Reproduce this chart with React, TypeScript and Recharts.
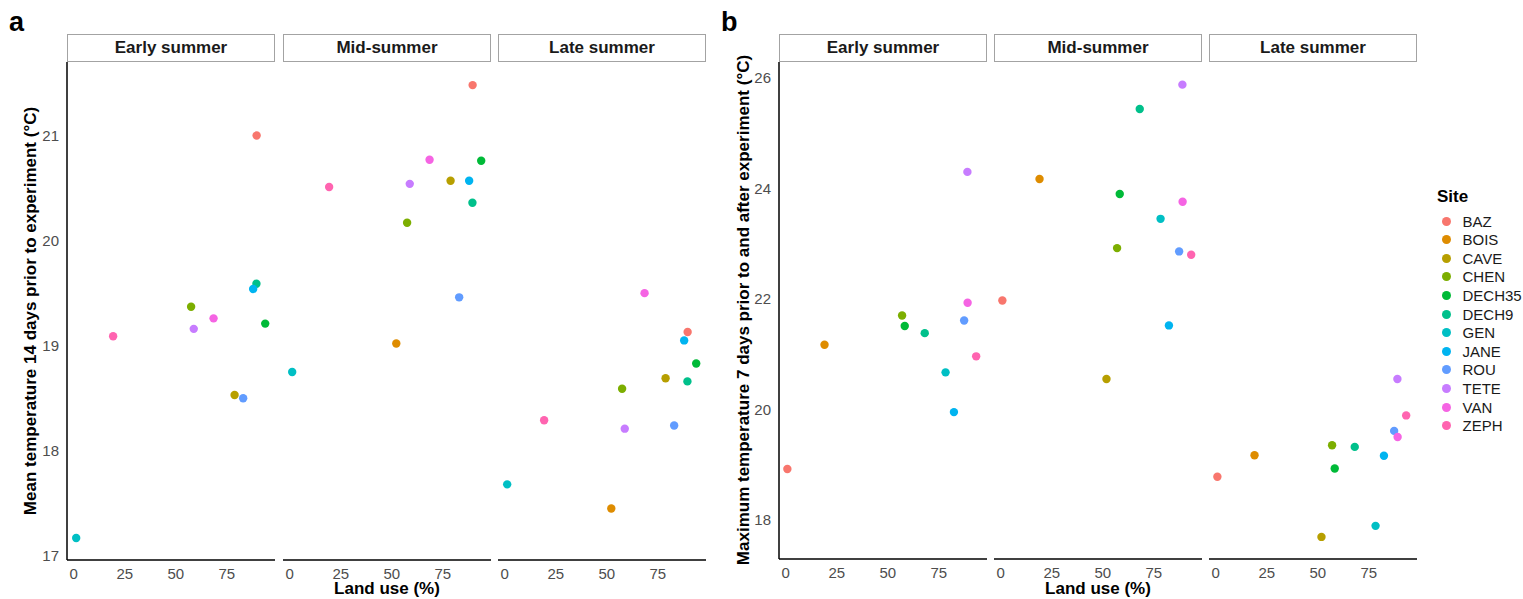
import React from 'react';
import { ScatterChart, Scatter, XAxis, YAxis } from 'recharts';

const sites = ['BAZ', 'BOIS', 'CAVE', 'CHEN', 'DECH35', 'DECH9', 'GEN', 'JANE', 'ROU', 'TETE', 'VAN', 'ZEPH'];
const siteColors = ['#F8766D', '#DE8C00', '#B79F00', '#7CAE00', '#00BA38', '#00C08B', '#00BFC4', '#00B4F0', '#619CFF', '#C77CFF', '#F564E3', '#FF64B0'];
const seasons = ['Early summer', 'Mid-summer', 'Late summer'];

// land use (%) per site, as plotted in each panel
const landUseA = [89.6, 52.2, 78.8, 57.5, 93.8, 89.5, 1.2, 87.9, 83.0, 58.8, 68.5, 19.3];
const landUseB = [0.8, 19.0, 51.8, 57.0, 58.3, 68.1, 78.3, 82.4, 87.4, 89.0, 89.1, 93.3];

// panel a: mean temperature 14 days prior to experiment
const meanEarly = [21.0, null, 18.53, 19.37, 19.21, 19.59, 17.17, 19.54, 18.5, 19.16, 19.26, 19.09];
const meanMid = [21.48, 19.02, 20.57, 20.17, 20.76, 20.36, 18.75, 20.57, 19.46, 20.54, 20.77, 20.51];
const meanLate = [19.13, 17.45, 18.69, 18.59, 18.83, 18.66, 17.68, 19.05, 18.24, 18.21, 19.5, 18.29];

// panel b: maximum temperature 7 days prior to and after experiment
const maxEarly = [18.92, 21.17, null, 21.7, 21.51, 21.38, 20.67, 19.95, 21.61, 24.3, 21.93, 20.96];
const maxMid = [21.97, 24.17, 20.55, 22.92, 23.9, 25.44, 23.45, 21.52, 22.86, 25.88, 23.76, 22.8];
const maxLate = [18.78, 19.17, 17.69, 19.35, 18.93, 19.32, 17.89, 19.16, 19.61, 20.55, 19.5, 19.89];

const xTicks = [0, 25, 50, 75];
const meanTicks = [17, 18, 19, 20, 21];
const maxTicks = [18, 20, 22, 24, 26];

const FONT = '"Liberation Sans", Arial, Helvetica, sans-serif';
const X_DOMAIN: [number, number] = [-3.3, 98.6];

type FacetProps = {
  left: number;
  top: number;
  width: number;
  height: number;
  showY: boolean;
  xs: number[];
  ys: (number | null)[];
  yDomain: [number, number];
  yTicks: number[];
};

const Facet = ({ left, top, width, height, showY, xs, ys, yDomain, yTicks }: FacetProps) => {
  const yW = showY ? 60 : 0;
  const xH = 34;
  return (
    <div style={{ position: 'absolute', left: left - yW, top }}>
      <ScatterChart width={width + yW} height={height + xH} margin={{ top: 0, right: 0, bottom: 0, left: 0 }}>
        <XAxis
          type="number"
          dataKey="x"
          domain={X_DOMAIN}
          ticks={xTicks}
          interval={0}
          allowDataOverflow
          height={xH}
          tickLine={false}
          axisLine={{ stroke: '#000', strokeWidth: 1.5 }}
          tick={{ fill: '#4d4d4d', fontSize: 15, fontFamily: FONT }}
        />
        <YAxis
          type="number"
          dataKey="y"
          domain={yDomain}
          ticks={yTicks}
          interval={0}
          allowDataOverflow
          hide={!showY}
          width={yW}
          tickLine={false}
          axisLine={{ stroke: '#000', strokeWidth: 1.5 }}
          tick={{ fill: '#4d4d4d', fontSize: 15, fontFamily: FONT }}
        />
        {sites.map((s, i) => {
          const v = ys[i];
          if (v == null) return null;
          const color = siteColors[i];
          return (
            <Scatter
              key={s}
              name={s}
              data={[{ x: xs[i], y: v }]}
              fill={color}
              isAnimationActive={false}
              shape={(p: any) => <circle cx={p.cx} cy={p.cy} r={4.2} fill={color} />}
            />
          );
        })}
      </ScatterChart>
    </div>
  );
};

const Strip = ({ left, label }: { left: number; label: string }) => (
  <div
    style={{
      position: 'absolute',
      left,
      top: 34,
      width: 208,
      height: 28,
      boxSizing: 'border-box',
      border: '1.5px solid #a3a3a3',
      background: '#fff',
      fontFamily: FONT,
      fontWeight: 'bold',
      fontSize: 17,
      color: '#1a1a1a',
      display: 'flex',
      alignItems: 'center',
      justifyContent: 'center',
    }}
  >
    {label}
  </div>
);

const VTitle = ({ x, y, text }: { x: number; y: number; text: string }) => (
  <div
    style={{
      position: 'absolute',
      left: x,
      top: y,
      transform: 'translate(-50%, -50%) rotate(-90deg)',
      whiteSpace: 'nowrap',
      fontFamily: FONT,
      fontWeight: 'bold',
      fontSize: 17,
      color: '#000',
    }}
  >
    {text}
  </div>
);

const HTitle = ({ x, y, text }: { x: number; y: number; text: string }) => (
  <div
    style={{
      position: 'absolute',
      left: x,
      top: y,
      transform: 'translate(-50%, -50%)',
      whiteSpace: 'nowrap',
      fontFamily: FONT,
      fontWeight: 'bold',
      fontSize: 17,
      lineHeight: '18px',
      color: '#000',
    }}
  >
    {text}
  </div>
);

const PanelLabel = ({ x, text }: { x: number; text: string }) => (
  <div
    style={{
      position: 'absolute',
      left: x,
      top: 9,
      fontFamily: FONT,
      fontWeight: 'bold',
      fontSize: 27,
      lineHeight: '27px',
      color: '#000',
    }}
  >
    {text}
  </div>
);

export default function App() {
  const facetW = 208;
  const leftsA = [67, 283, 498];
  const leftsB = [779, 994, 1209];
  const seriesA = [meanEarly, meanMid, meanLate];
  const seriesB = [maxEarly, maxMid, maxLate];
  return (
    <div style={{ position: 'absolute', left: 0, top: 0, width: 1523, height: 599, background: '#fff', overflow: 'hidden' }}>
      <PanelLabel x={9} text="a" />
      <PanelLabel x={721} text="b" />

      {leftsA.map((l, i) => (
        <Strip key={'sa' + i} left={l} label={seasons[i]} />
      ))}
      {leftsB.map((l, i) => (
        <Strip key={'sb' + i} left={l} label={seasons[i]} />
      ))}

      {leftsA.map((l, i) => (
        <Facet
          key={'fa' + i}
          left={l}
          top={62}
          width={facetW}
          height={498}
          showY={i === 0}
          xs={landUseA}
          ys={seriesA[i]}
          yDomain={[16.96, 21.7]}
          yTicks={meanTicks}
        />
      ))}
      {leftsB.map((l, i) => (
        <Facet
          key={'fb' + i}
          left={l}
          top={62}
          width={facetW}
          height={497}
          showY={i === 0}
          xs={landUseB}
          ys={seriesB[i]}
          yDomain={[17.29, 26.29]}
          yTicks={maxTicks}
        />
      ))}

      <VTitle x={31} y={311} text="Mean temperature 14 days prior to experiment (°C)" />
      <VTitle x={744} y={310} text="Maximum temperature 7 days prior to and after experiment (°C)" />
      <HTitle x={387} y={589} text="Land use (%)" />
      <HTitle x={1098} y={589} text="Land use (%)" />

      <div style={{ position: 'absolute', left: 1437, top: 186, fontFamily: FONT, fontWeight: 'bold', fontSize: 17, lineHeight: '22px' }}>
        Site
      </div>
      {sites.map((s, i) => (
        <div
          key={'lg' + s}
          style={{ position: 'absolute', left: 1440, top: 221 + i * 18.6 - 9, height: 18, display: 'flex', alignItems: 'center' }}
        >
          <span style={{ display: 'inline-block', width: 9, height: 9, borderRadius: '50%', background: siteColors[i], marginLeft: 1.5 }} />
          <span style={{ marginLeft: 12, fontFamily: FONT, fontSize: 15, color: '#1a1a1a' }}>{s}</span>
        </div>
      ))}
    </div>
  );
}
